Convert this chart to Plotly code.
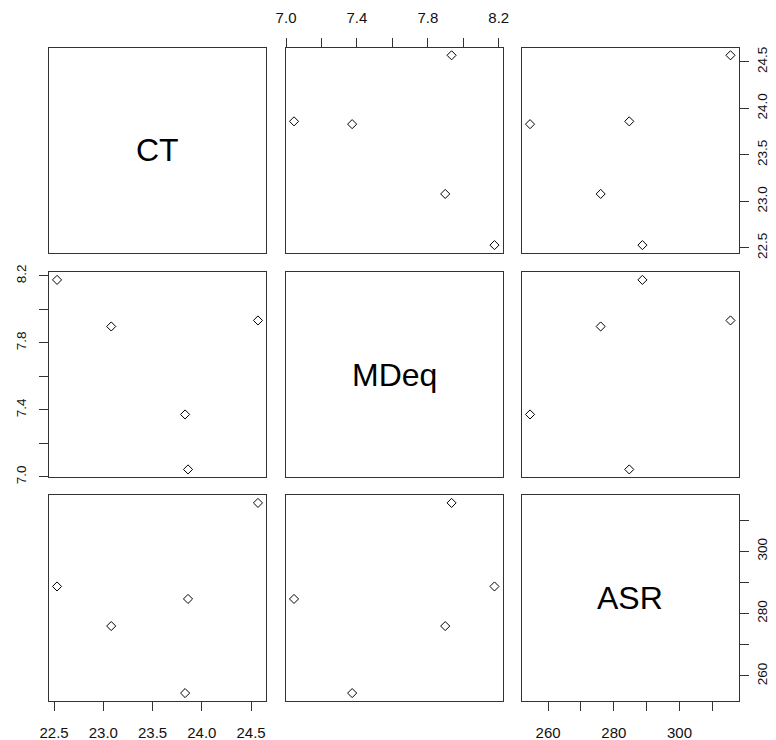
import plotly.graph_objects as go

# ---- data ----
var_names = ["CT", "MDeq", "ASR"]
CT = [22.53, 23.08, 24.57, 23.83, 23.86]
MDeq = [8.176, 7.898, 7.934, 7.373, 7.045]
ASR = [288.7, 276.0, 315.5, 254.5, 284.7]

CT_ticks = [22.5, 23.0, 23.5, 24.0, 24.5]
CT_labels = ["22.5", "23.0", "23.5", "24.0", "24.5"]
MDeq_ticks = [7.0, 7.2, 7.4, 7.6, 7.8, 8.0, 8.2]
MDeq_labels = ["7.0", "", "7.4", "", "7.8", "", "8.2"]
ASR_ticks = [260, 270, 280, 290, 300, 310]
ASR_labels = ["260", "", "280", "", "300", ""]

data = [CT, MDeq, ASR]
ticks = [(CT_ticks, CT_labels), (MDeq_ticks, MDeq_labels), (ASR_ticks, ASR_labels)]


def rng(v):
    lo, hi = min(v), max(v)
    r = hi - lo
    return [lo - 0.04 * r, hi + 0.04 * r]


# page body has an 8px margin, so the figure is offset by 8px
OFF = 8
W, H = 776 - OFF, 740 - OFF
col_px = [(49, 266), (286, 502.5), (522, 738.5)]
row_px = [(47.7, 252.7), (272.3, 477), (495.3, 700.7)]

fig = go.Figure()
layout = dict(
    width=W, height=H, margin=dict(l=0, r=0, t=0, b=0),
    paper_bgcolor="white", plot_bgcolor="white", showlegend=False,
    font=dict(family="Liberation Sans, Arial, sans-serif", color="#111"),
)
annotations = []

FONT_X = dict(size=15, color="#111", family="Liberation Sans, Arial, sans-serif")
FONT_Y = dict(size=13.5, color="#111", family="Liberation Sans, Arial, sans-serif")

n = 3
for i in range(n):          # row  -> y variable
    for j in range(n):      # col  -> x variable
        k = i * n + j + 1
        xa = "xaxis" if k == 1 else f"xaxis{k}"
        ya = "yaxis" if k == 1 else f"yaxis{k}"
        xr = "x" if k == 1 else f"x{k}"
        yr = "y" if k == 1 else f"y{k}"
        xd = [(col_px[j][0] - OFF) / W, (col_px[j][1] - OFF) / W]
        yd = [1 - (row_px[i][1] - OFF) / H, 1 - (row_px[i][0] - OFF) / H]

        xax = dict(domain=xd, anchor=yr, range=rng(data[j]), showgrid=False,
                   zeroline=False, showline=True, linecolor="#333", linewidth=1,
                   mirror=True, ticks="", showticklabels=False, automargin=False,
                   fixedrange=True)
        yax = dict(domain=yd, anchor=xr, range=rng(data[i]), showgrid=False,
                   zeroline=False, showline=True, linecolor="#333", linewidth=1,
                   mirror=True, ticks="", showticklabels=False, automargin=False,
                   fixedrange=True)

        # x axes: bottom for cols 0,2 (row 2), top for col 1 (row 0)
        if (i == 2 and j in (0, 2)) or (i == 0 and j == 1):
            tv, tt = ticks[j]
            xax.update(ticks="outside", ticklen=9, tickcolor="#333", tickwidth=1,
                       tickvals=tv, ticktext=tt, showticklabels=True,
                       tickfont=FONT_X, ticklabelstandoff=9,
                       side="bottom" if i == 2 else "top")
        # y axes: left for row 1 (col 0), right for rows 0,2 (col 2)
        if (j == 0 and i == 1) or (j == 2 and i in (0, 2)):
            tv, tt = ticks[i]
            yax.update(ticks="outside", ticklen=9, tickcolor="#333", tickwidth=1,
                       tickvals=tv, ticktext=tt, showticklabels=True,
                       tickfont=FONT_Y, tickangle=-90,
                       ticklabelstandoff=8 if j == 0 else 2,
                       side="left" if j == 0 else "right")

        layout[xa] = xax
        layout[ya] = yax

        if i == j:
            # empty trace so the diagonal panel box and axes are drawn
            fig.add_trace(go.Scatter(x=[None], y=[None], xaxis=xr, yaxis=yr,
                                     mode="markers", hoverinfo="skip"))
            annotations.append(dict(
                xref=f"{xr} domain", yref=f"{yr} domain", x=0.5, y=0.5,
                text=var_names[i], showarrow=False,
                font=dict(size=32, color="black",
                          family="Liberation Sans, Arial, sans-serif")))
        else:
            fig.add_trace(go.Scatter(
                x=data[j], y=data[i], xaxis=xr, yaxis=yr, mode="markers",
                marker=dict(symbol="diamond-open", size=7, color="black",
                            line=dict(width=1, color="black")),
                hoverinfo="skip"))

layout["annotations"] = annotations
fig.update_layout(**layout)
fig.write_html("out.html")
